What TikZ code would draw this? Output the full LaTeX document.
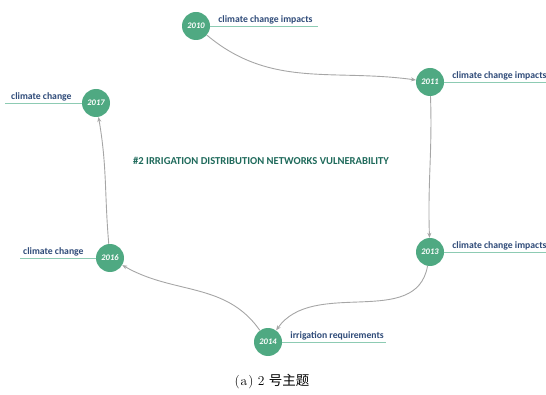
\documentclass[tikz,border=0pt]{standalone}
\usepackage{fontspec}
\newfontfamily\cjk{Noto Sans CJK SC}
\newfontfamily\cali{Carlito}
\usepackage{xcolor}
\usetikzlibrary{arrows.meta, positioning, calc}

\definecolor{nodegreen}{HTML}{4FA982}
\definecolor{topicblue}{HTML}{2E4A78}
\definecolor{titlegreen}{HTML}{1F6A5B}
\definecolor{linegreen}{HTML}{8DCBB3}
\definecolor{linkgray}{HTML}{A6A6A6}

\begin{document}
\begin{tikzpicture}[
        x=1pt, y=1pt,
        year/.style={circle, fill=nodegreen, minimum size=28pt, inner sep=0pt, text=white, font=\cali\bfseries\itshape\fontsize{8.5}{9}\selectfont},
        topic/.style={inner sep=0pt, text=topicblue, font=\cali\bfseries\fontsize{9.7}{11}\selectfont},
        uline/.style={draw=linegreen, line width=0.9pt},
        link/.style={draw=linkgray, line width=0.9pt, -{Stealth[length=5pt, width=4pt]}}
    ]
    \useasboundingbox (0,0) rectangle (546,394);

    % Years
    \node (Y2010) [year] at (196,368) {2010};
    \node (Y2011) [year] at (430,312) {2011};
    \node (Y2013) [year] at (430,142) {2013};
    \node (Y2014) [year] at (268,52) {2014};
    \node (Y2016) [year] at (110,136) {2016};
    \node (Y2017) [year] at (96,291) {2017};

    % Topic labels, right side
    \draw[uline] (Y2010.east) -- ++(108,0);
    \node (L2010) [topic, anchor=south west] at ($(Y2010.east)+(8,2)$) {climate change impacts};
    \draw[uline] (Y2011.east) -- ++(106,0);
    \node (L2011) [topic, anchor=south west] at ($(Y2011.east)+(8,2)$) {climate change impacts};
    \draw[uline] (Y2013.east) -- ++(106,0);
    \node (L2013) [topic, anchor=south west] at ($(Y2013.east)+(8,2)$) {climate change impacts};
    \draw[uline] (Y2014.east) -- ++(104,0);
    \node (L2014) [topic, anchor=south west] at ($(Y2014.east)+(8,2)$) {irrigation requirements};

    % Topic labels, left side
    \draw[uline] (Y2017.west) -- ++(-77,0);
    \node (L2017) [topic, anchor=south east] at ($(Y2017.west)+(-10,2)$) {climate change};
    \draw[uline] (Y2016.west) -- ++(-76,0);
    \node (L2016) [topic, anchor=south east] at ($(Y2016.west)+(-12,2)$) {climate change};

    % Evolution path
    \draw[link] (Y2010) to[out=-40, in=172] (Y2011);
    \draw[link] (Y2011) to[out=-88, in=92] (Y2013);
    \draw[link] (Y2013) to[out=-100, in=55] (Y2014);
    \draw[link] (Y2014) to[out=125, in=-30] (Y2016);
    \draw[link] (Y2016) to[out=95, in=-80] (Y2017);

    % Title and caption
    \node (Title) at (261,233) [text=titlegreen, font=\cali\bfseries\fontsize{10.6}{12}\selectfont] {\#2 IRRIGATION DISTRIBUTION NETWORKS VULNERABILITY};
    \node (Caption) at (272,12) [font=\fontsize{13.5}{15}\selectfont] {(\kern1pt a\kern1pt)\ 2 {\cjk 号主题}};

\end{tikzpicture}
\end{document}
